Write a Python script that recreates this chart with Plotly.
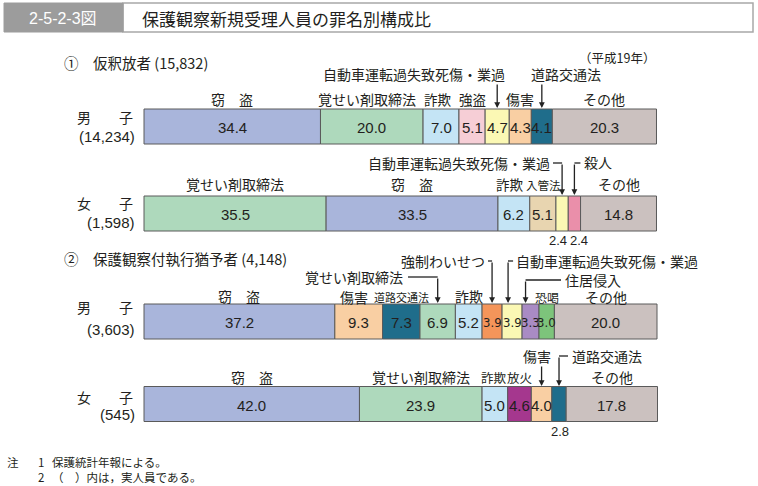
import plotly.graph_objects as go
import numpy as np

# ---------------- data ----------------
r1_cats = ["窃盗", "覚せい剤取締法", "詐欺", "強盗", "自動車運転過失致死傷・業過", "傷害", "道路交通法", "その他"]
r1_vals = [34.4, 20.0, 7.0, 5.1, 4.7, 4.3, 4.1, 20.3]

r2_cats = ["覚せい剤取締法", "窃盗", "詐欺", "入管法", "自動車運転過失致死傷・業過", "殺人", "その他"]
r2_vals = [35.5, 33.5, 6.2, 5.1, 2.4, 2.4, 14.8]

r3_cats = ["窃盗", "傷害", "道路交通法", "覚せい剤取締法", "詐欺", "強制わいせつ",
           "自動車運転過失致死傷・業過", "住居侵入", "恐喝", "その他"]
r3_vals = [37.2, 9.3, 7.3, 6.9, 5.2, 3.9, 3.9, 3.3, 3.0, 20.0]

r4_cats = ["窃盗", "覚せい剤取締法", "詐欺", "放火", "傷害", "道路交通法", "その他"]
r4_vals = [42.0, 23.9, 5.0, 4.6, 4.0, 2.8, 17.8]

row_names = ["男　　子", "女　　子", "男　　子", "女　　子"]
row_counts = ["(14,234)", "(1,598)", "(3,603)", "(545)"]
section_titles = ["①　仮釈放者 (15,832)", "②　保護観察付執行猶予者 (4,148)"]

COL = {
    "窃盗": "#A9B5DB",
    "覚せい剤取締法": "#AED9BC",
    "詐欺": "#C4E4F5",
    "強盗": "#F6CED6",
    "自動車運転過失致死傷・業過": "#FBF8B4",
    "傷害": "#F9CFA3",
    "道路交通法": "#1F6D8B",
    "その他": "#CBC1BF",
    "入管法": "#E8D5B0",
    "殺人": "#EA8FAA",
    "強制わいせつ": "#F4955A",
    "住居侵入": "#A98BC4",
    "恐喝": "#7DC47B",
    "放火": "#A5378E",
}

# ---------------- layout geometry ----------------
W, H = 758, 486
X0, X1 = 144, 657
S = (X1 - X0) / 100.0
def px(p):
    return (p - X0) / S

JP = "Noto Sans CJK JP"
NUM = "Liberation Sans, Arial, sans-serif"
NARROW = "Liberation Sans Narrow, DejaVu Sans Condensed, Liberation Sans, sans-serif"
TXT = "#231F20"

rows = [(r1_cats, r1_vals, 126.5), (r2_cats, r2_vals, 213.5),
        (r3_cats, r3_vals, 321.5), (r4_cats, r4_vals, 404)]
BH = 35

fig = go.Figure()
info = []
for cats, vals, yc in rows:
    v = np.array(vals)
    starts = np.concatenate([[0], np.cumsum(v)[:-1]])
    centers = starts + v / 2
    info.append(dict(zip(cats, centers)))
    fig.add_trace(go.Bar(
        y=[yc] * len(v), x=v, base=starts, orientation="h", width=BH,
        marker=dict(color=[COL[c] for c in cats], line=dict(color="#5A5A5A", width=1)),
        hoverinfo="skip", showlegend=False))

ann = []
shapes = []

def txt(x, y, s, size=14, anchor="center", fam=JP, color=TXT, data_x=False):
    ann.append(dict(x=x if data_x else px(x), y=y, xref="x", yref="y", text=s,
                    showarrow=False, xanchor=anchor, yanchor="middle",
                    font=dict(family=fam, size=size, color=color)))

def arrow(xd, y_tail, y_tip):
    ann.append(dict(x=xd, y=y_tip, ax=xd, ay=y_tail, xref="x", yref="y",
                    axref="x", ayref="y", text="", showarrow=True,
                    arrowhead=2, arrowsize=0.9, arrowwidth=1.3, arrowcolor="#222"))

def line(x0, y0, x1, y1, data_x=False):
    shapes.append(dict(type="line", xref="x", yref="y",
                       x0=x0 if data_x else px(x0), x1=x1 if data_x else px(x1),
                       y0=y0, y1=y1, line=dict(color="#222", width=1.3)))

def xpx(xd):
    return X0 + xd * S

# numbers inside bars
below = {1: ["自動車運転過失致死傷・業過", "殺人"], 3: ["道路交通法"]}
small = {2: ["強制わいせつ", "自動車運転過失致死傷・業過", "住居侵入", "恐喝"]}
for i, (cats, vals, yc) in enumerate(rows):
    for c, v in zip(cats, vals):
        if c in below.get(i, []):
            continue
        if c in small.get(i, []):
            txt(info[i][c], yc + 1, f"{v:.1f}", size=13, fam=NARROW, data_x=True)
        else:
            txt(info[i][c], yc + 1, f"{v:.1f}", size=15, fam=NUM, data_x=True)

# below-bar numbers
txt(558, 240, f"{r2_vals[4]:.1f}", size=13, fam=NUM)
txt(579, 240, f"{r2_vals[5]:.1f}", size=13, fam=NUM)
txt(560, 431, f"{r4_vals[5]:.1f}", size=13, fam=NUM)

# row labels (left)
name_y = [(117, 136), (203, 222), (307, 329), (397, 414)]
for i in range(4):
    txt(135, name_y[i][0], row_names[i], size=14, anchor="right")
    txt(137, name_y[i][1], row_counts[i], size=15, anchor="right", fam=NUM + ", " + JP)

# section titles
txt(62, 62, section_titles[0], size=14.5, anchor="left", fam=JP)
txt(62, 258, section_titles[1], size=14.5, anchor="left", fam=JP)
txt(657, 57, "（平成19年）", size=12.5, anchor="right")

# ---- row 1 labels
c = info[0]
ty = 99
txt(c["窃盗"], ty, "窃　盗", data_x=True)
txt(367, ty, "覚せい剤取締法")
txt(438, ty, "詐欺", size=13.5)
txt(c["強盗"], ty, "強盗", data_x=True, size=13.5)
txt(c["傷害"], ty, "傷害", data_x=True)
txt(c["その他"], ty, "その他", data_x=True)
txt(507, 74, "自動車運転過失致死傷・業過", anchor="right")
arrow(c["自動車運転過失致死傷・業過"], 83, 108)
txt(529, 74, "道路交通法", anchor="left")
arrow(c["道路交通法"], 83, 108)

# ---- row 2 labels
c = info[1]
ty = 184
txt(c["覚せい剤取締法"], ty, "覚せい剤取締法", data_x=True)
txt(c["窃盗"], ty, "窃　盗", data_x=True)
txt(510, ty, "詐欺", size=13.5)
txt(543, ty + 1, "入管法", size=11.5)
txt(c["その他"], ty, "その他", data_x=True)
xa = xpx(c["自動車運転過失致死傷・業過"])
txt(552, 163, "自動車運転過失致死傷・業過", anchor="right")
line(553, 163, xa, 163)
arrow(c["自動車運転過失致死傷・業過"], 163, 195)
xb = xpx(c["殺人"])
line(xb, 163, xb + 6, 163)
arrow(c["殺人"], 163, 195)
txt(xb + 8, 162, "殺人", anchor="left")

# ---- row 3 labels
c = info[2]
ty = 296
txt(c["窃盗"], ty, "窃　盗", data_x=True)
txt(354, ty + 1, "傷害")
txt(c["道路交通法"], ty + 1, "道路交通法", data_x=True, size=11)
txt(c["詐欺"], ty, "詐欺", data_x=True)
txt(c["恐喝"], ty + 1, "恐喝", data_x=True, size=12)
txt(c["その他"], ty + 1, "その他", data_x=True)
# 覚せい剤
xk = xpx(c["覚せい剤取締法"])
txt(405, 277, "覚せい剤取締法", anchor="right")
line(408, 277, xk, 277)
arrow(c["覚せい剤取締法"], 277, 303)
# 強制わいせつ
xw = xpx(c["強制わいせつ"])
txt(487, 261, "強制わいせつ", anchor="right")
line(488, 261, xw, 261)
arrow(c["強制わいせつ"], 261, 303)
# 自動車
xj = xpx(c["自動車運転過失致死傷・業過"]) - 4
line(xj, 261, xj + 5, 261)
arrow(px(xj), 261, 303)
txt(xj + 6, 261, "自動車運転過失致死傷・業過", anchor="left")
# 住居侵入
xs = xpx(c["住居侵入"]) - 5
line(xs, 280, 561, 280)
arrow(px(xs), 280, 303)
txt(563, 280, "住居侵入", anchor="left")

# ---- row 4 labels
c = info[3]
ty = 377
txt(c["窃盗"], ty, "窃　盗", data_x=True)
txt(c["覚せい剤取締法"], ty, "覚せい剤取締法", data_x=True)
txt(494, ty, "詐欺", size=12.5)
txt(519, ty, "放火", size=12.5)
txt(c["その他"], ty, "その他", data_x=True)
txt(c["傷害"] - 0.8, 356, "傷害", data_x=True)
arrow(c["傷害"], 365, 386)
xr = xpx(c["道路交通法"])
line(xr, 356, xr + 9, 356)
arrow(c["道路交通法"], 356, 386)
txt(xr + 11, 356, "道路交通法", anchor="left")

# ---- footnotes
FN = 11.5
txt(5, 462, "注", size=FN, anchor="left")
txt(36, 462, "1", size=FN, anchor="left")
txt(50, 462, "保護統計年報による。", size=FN, anchor="left")
txt(36, 477, "2", size=FN, anchor="left")
txt(50, 477, "（　）内は，実人員である。", size=FN, anchor="left")

# ---- header
shapes.append(dict(type="rect", xref="x", yref="y", x0=px(123), x1=px(753), y0=3, y1=32,
                   fillcolor="white", line=dict(color="#A8A8A8", width=1.5), layer="below"))
shapes.append(dict(type="rect", xref="x", yref="y", x0=px(4), x1=px(123), y0=3, y1=32,
                   fillcolor="#9C9C9C", line=dict(color="#9C9C9C", width=1), layer="below"))
txt(63, 18, "2-5-2-3図", size=16, fam="Liberation Sans Narrow, Liberation Sans, " + JP, color="white")
txt(140, 18, "保護観察新規受理人員の罪名別構成比", size=17, anchor="left")

fig.update_layout(
    width=W, height=H, margin=dict(l=0, r=0, t=0, b=0),
    paper_bgcolor="white", plot_bgcolor="white",
    barmode="overlay", annotations=ann, shapes=shapes,
    xaxis=dict(range=[px(0), px(W)], visible=False, fixedrange=True),
    yaxis=dict(range=[H, 0], visible=False, fixedrange=True),
    showlegend=False,
)
fig.write_html("out.html")
